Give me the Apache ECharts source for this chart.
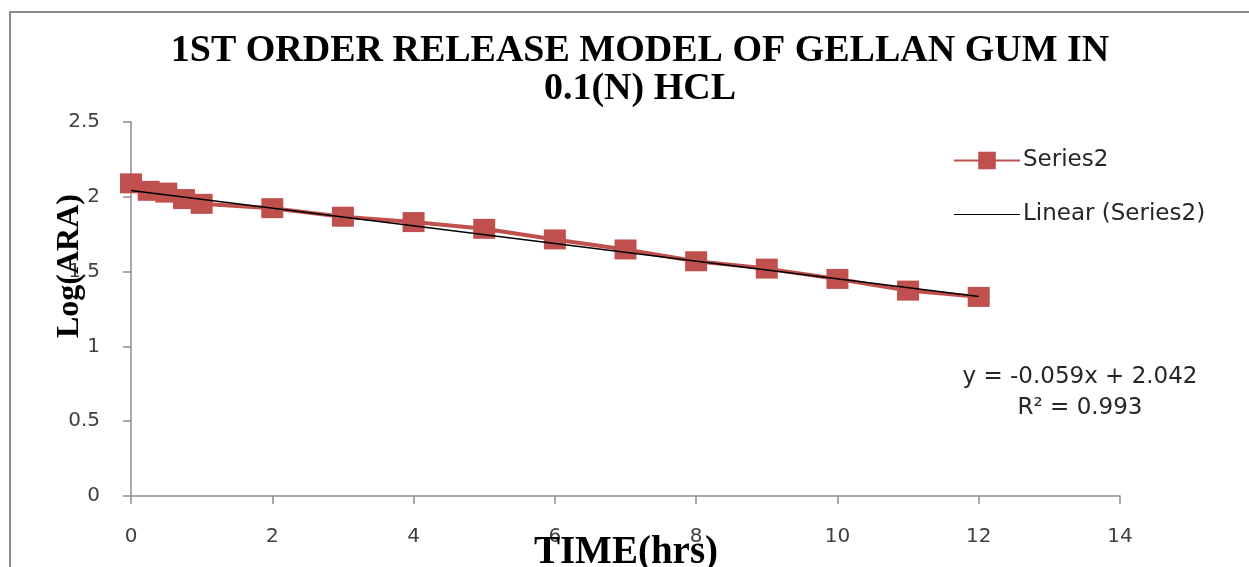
<!DOCTYPE html>
<html>
<head>
<meta charset="utf-8">
<script src="https://cdn.jsdelivr.net/npm/echarts@6/dist/echarts.min.js"></script>
<style>
  html, body { margin: 0; padding: 0; background: #ffffff; }
  #chart { width: 1249px; height: 567px; }
</style>
</head>
<body>
<div id="chart"></div>
<script>
// Sampling times (hrs) and log of amount remaining
const timeHrs = [0, 0.25, 0.5, 0.75, 1, 2, 3, 4, 5, 6, 7, 8, 9, 10, 11, 12];
const logARA = [2.09, 2.04, 2.028, 1.985, 1.953, 1.924, 1.867, 1.831, 1.786, 1.715, 1.648, 1.569, 1.520, 1.451, 1.373, 1.331];

// Linear trendline as reported: y = -0.059x + 2.042, R² = 0.993
const trendSlope = -0.059;
const trendIntercept = 2.042;
const trendRange = [0, 12];
const rSquared = 0.993;

const xTicks = [0, 2, 4, 6, 8, 10, 12, 14];
const yTicks = [0, 0.5, 1, 1.5, 2, 2.5];

const serif = '"Liberation Serif", "Times New Roman", serif';
const sans = '"DejaVu Sans", "Open Sans", sans-serif';

const seriesData = timeHrs.map((t, i) => [t, logARA[i]]);
const trendData = trendRange.map(x => [x, trendIntercept + trendSlope * x]);

const chart = echarts.init(document.getElementById('chart'), null, { renderer: 'canvas' });

chart.setOption({
  animation: false,
  backgroundColor: '#ffffff',
  title: {
    text: '1ST ORDER RELEASE MODEL OF GELLAN GUM IN\n0.1(N) HCL',
    left: 635,
    top: 27,
    textAlign: 'center',
    textStyle: {
      fontFamily: serif,
      fontWeight: 'bold',
      fontSize: 38,
      lineHeight: 38,
      color: '#000000'
    }
  },
  grid: { left: 131, right: 129, top: 122, bottom: 71, containLabel: false, outerBoundsMode: 'none' },
  legend: {
    orient: 'vertical',
    left: 953,
    top: 149,
    padding: 0,
    itemGap: 31,
    itemWidth: 66,
    itemHeight: 22,
    textStyle: { fontFamily: sans, fontSize: 23, lineHeight: 22, color: '#262626', padding: [0, 0, 0, -2] },
    data: [
      { name: 'Series2' },
      { name: 'Linear (Series2)', icon: 'path://M0,0 L66,0 L66,1 L0,1 Z', itemStyle: { color: '#000000' } }
    ]
  },
  xAxis: {
    type: 'value',
    min: xTicks[0],
    max: xTicks[xTicks.length - 1],
    interval: 2,
    axisLine: { show: true, lineStyle: { color: '#8c8c8c', width: 1.5 } },
    axisTick: { show: true, inside: false, length: 8, lineStyle: { color: '#8c8c8c', width: 1.5 } },
    axisLabel: { margin: 31, fontFamily: sans, fontSize: 20, color: '#404040' },
    splitLine: { show: false }
  },
  yAxis: {
    type: 'value',
    min: yTicks[0],
    max: yTicks[yTicks.length - 1],
    interval: 0.5,
    axisLine: { show: true, lineStyle: { color: '#8c8c8c', width: 1.5 } },
    axisTick: { show: true, inside: false, length: 8, lineStyle: { color: '#8c8c8c', width: 1.5 } },
    axisLabel: { margin: 31, fontFamily: sans, fontSize: 20, color: '#404040' },
    splitLine: { show: false }
  },
  graphic: [
    {
      type: 'rect',
      shape: { x: 10, y: 12, width: 1260, height: 600 },
      style: { fill: 'none', stroke: '#8c8c8c', lineWidth: 2 },
      silent: true
    },
    {
      // y-axis title
      type: 'text',
      x: 70,
      y: 266,
      rotation: Math.PI / 2,
      z: 10,
      style: {
        text: 'Log(ARA)',
        fontFamily: serif,
        fontWeight: 'bold',
        fontSize: 32,
        fill: '#000000',
        align: 'center',
        verticalAlign: 'middle'
      }
    },
    {
      // x-axis title
      type: 'text',
      x: 626,
      y: 553,
      z: 10,
      style: {
        text: 'TIME(hrs)',
        fontFamily: serif,
        fontWeight: 'bold',
        fontSize: 39,
        fill: '#000000',
        align: 'center',
        verticalAlign: 'middle'
      }
    },
    {
      type: 'text',
      x: 1080,
      y: 377,
      style: {
        text: 'y = ' + trendSlope.toFixed(3) + 'x + ' + trendIntercept.toFixed(3),
        fontFamily: sans,
        fontSize: 23,
        fill: '#262626',
        align: 'center',
        verticalAlign: 'middle'
      }
    },
    {
      type: 'text',
      x: 1080,
      y: 408,
      style: {
        text: 'R² = ' + rSquared.toFixed(3),
        fontFamily: sans,
        fontSize: 23,
        fill: '#262626',
        align: 'center',
        verticalAlign: 'middle'
      }
    }
  ],
  series: [
    {
      name: 'Series2',
      type: 'line',
      data: seriesData,
      symbol: 'rect',
      symbolSize: [22, 20],
      lineStyle: { color: '#c0504d', width: 4 },
      itemStyle: { color: '#c0504d' },
      z: 2
    },
    {
      name: 'Linear (Series2)',
      type: 'line',
      data: trendData,
      symbol: 'none',
      lineStyle: { color: '#000000', width: 1.5 },
      itemStyle: { color: '#000000' },
      z: 3
    }
  ]
});
</script>
</body>
</html>
